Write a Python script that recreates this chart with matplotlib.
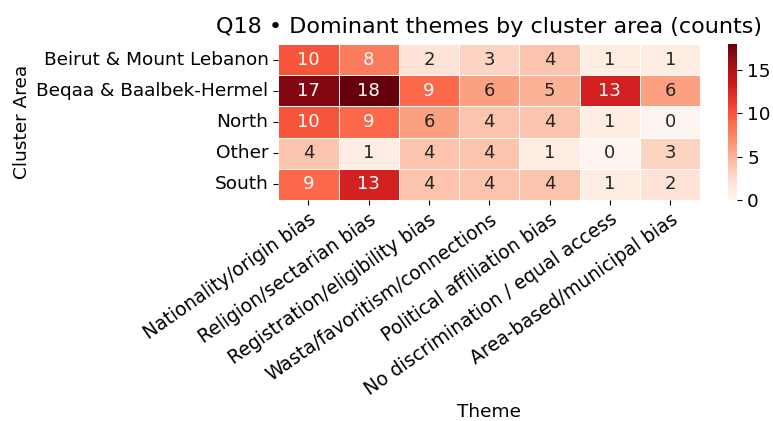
import matplotlib
matplotlib.use("Agg")
import matplotlib.pyplot as plt
import seaborn as sns
import numpy as np

areas = ["Beirut & Mount Lebanon", "Beqaa & Baalbek-Hermel", "North", "Other", "South"]
themes = ["Nationality/origin bias", "Religion/sectarian bias", "Registration/eligibility bias",
          "Wasta/favoritism/connections", "Political affiliation bias",
          "No discrimination / equal access", "Area-based/municipal bias"]
beirut = [10, 8, 2, 3, 4, 1, 1]
beqaa = [17, 18, 9, 6, 5, 13, 6]
north = [10, 9, 6, 4, 4, 1, 0]
other = [4, 1, 4, 4, 1, 0, 3]
south = [9, 13, 4, 4, 4, 1, 2]

data = np.array([beirut, beqaa, north, other, south])

fig = plt.figure(figsize=(7.73, 4.21), dpi=100)
ax = fig.add_axes([0.36, 0.525, 0.546, 0.3705])
cax = fig.add_axes([0.942, 0.525, 0.012, 0.3705])
sns.heatmap(data, ax=ax, cbar_ax=cax, cmap="Reds", annot=True, fmt="d",
            linewidths=0.5, linecolor="white", xticklabels=themes, yticklabels=areas,
            annot_kws={"fontsize": 13})
ax.set_title("Q18 • Dominant themes by cluster area (counts)", fontsize=16, pad=8)
ax.set_xlabel("Theme", fontsize=13.3)
ax.xaxis.set_label_coords(0.5, -1.30)
ax.set_ylabel("Cluster Area", fontsize=13.3)
plt.setp(ax.get_xticklabels(), rotation=35, ha="right", rotation_mode="anchor", fontsize=13.5)
plt.setp(ax.get_yticklabels(), rotation=0, fontsize=13.3)
cax.tick_params(labelsize=13.3)
fig.savefig("out.png", dpi=100)
